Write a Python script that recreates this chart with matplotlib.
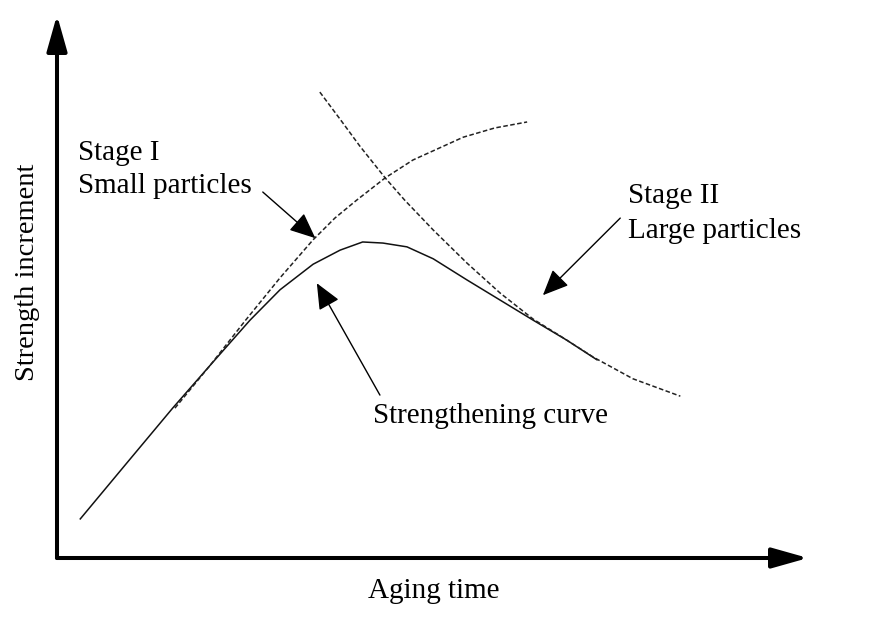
import matplotlib.pyplot as plt
from matplotlib.patches import ArrowStyle

# Schematic values (aging time vs strength increment, arbitrary units 0-10)
curve_x = [0.31, 0.93, 1.54, 2.04, 2.57, 2.97, 3.41, 3.77, 4.07, 4.34,
           4.66, 5.01, 5.46, 5.90, 6.34, 6.79, 7.19]
curve_y = [0.72, 1.75, 2.76, 3.55, 4.38, 4.94, 5.41, 5.67, 5.82, 5.80,
           5.73, 5.51, 5.12, 4.75, 4.38, 4.01, 3.65]

stage1_x = [1.57, 2.04, 2.50, 2.97, 3.41, 3.70, 3.99, 4.37, 4.74, 5.41,
            5.83, 6.26]
stage1_y = [2.76, 3.55, 4.36, 5.16, 5.86, 6.26, 6.59, 7.00, 7.33, 7.75,
            7.92, 8.03]

stage2_x = [3.50, 3.77, 4.03, 4.37, 4.63, 5.01, 5.46, 5.90, 6.34, 6.70,
            7.14, 7.67, 8.30]
stage2_y = [8.58, 8.08, 7.59, 7.00, 6.59, 6.04, 5.43, 4.88, 4.40, 4.09,
            3.70, 3.30, 2.98]

# annotation arrows: (tail, tip)
arrow_small = ((2.74, 6.74), (3.44, 5.89))
arrow_large = ((7.50, 6.26), (6.47, 4.84))
arrow_curve = ((4.30, 3.00), (3.46, 5.06))

plt.rcParams['font.family'] = ['Liberation Serif', 'DejaVu Serif']

fig = plt.figure(figsize=(8.73, 6.32), dpi=100)
ax = fig.add_axes([57 / 873, 74 / 632, 751 / 873, 543 / 632])
ax.set_xlim(0, 10)
ax.set_ylim(0, 10)
ax.axis('off')

# axes with arrow heads
axis_style = ArrowStyle('-|>', head_length=2.2, head_width=0.62)
for tip in [(0, 1), (1, 0)]:
    ax.annotate('', xy=tip, xytext=(0, 0), xycoords='axes fraction',
                arrowprops=dict(arrowstyle=axis_style, lw=2.9, color='black',
                                mutation_scale=10, shrinkA=0, shrinkB=0),
                annotation_clip=False)

# curves
ax.plot(curve_x, curve_y, color='#111111', lw=1.1, solid_joinstyle='round')
ax.plot(stage1_x, stage1_y, color='#222222', lw=1.1, dashes=(3, 1.6))
ax.plot(stage2_x, stage2_y, color='#222222', lw=1.1, dashes=(3, 1.6))

# pointer arrows
ptr_style = ArrowStyle('-|>', head_length=1.6, head_width=0.7)
for tail, tip in [arrow_small, arrow_large, arrow_curve]:
    ax.annotate('', xy=tip, xytext=tail,
                arrowprops=dict(arrowstyle=ptr_style, lw=1.0, color='black',
                                mutation_scale=10, shrinkA=0, shrinkB=0))

fs = 21
ax.text(0.28, 7.33, 'Stage I', fontsize=fs, va='baseline')
ax.text(0.28, 6.72, 'Small particles', fontsize=fs, va='baseline')
ax.text(7.60, 6.54, 'Stage II', fontsize=fs, va='baseline')
ax.text(7.60, 5.89, 'Large particles', fontsize=fs, va='baseline')
ax.text(4.21, 2.49, 'Strengthening curve', fontsize=fs, va='baseline')

fig.text(434 / 873, 1 - 598 / 632, 'Aging time', fontsize=fs,
         ha='center', va='baseline')
fig.text(28 / 873, 1 - 272 / 632, 'Strength increment', fontsize=20.5,
         rotation=90, ha='center', va='center')

fig.savefig('out.png', dpi=100)
